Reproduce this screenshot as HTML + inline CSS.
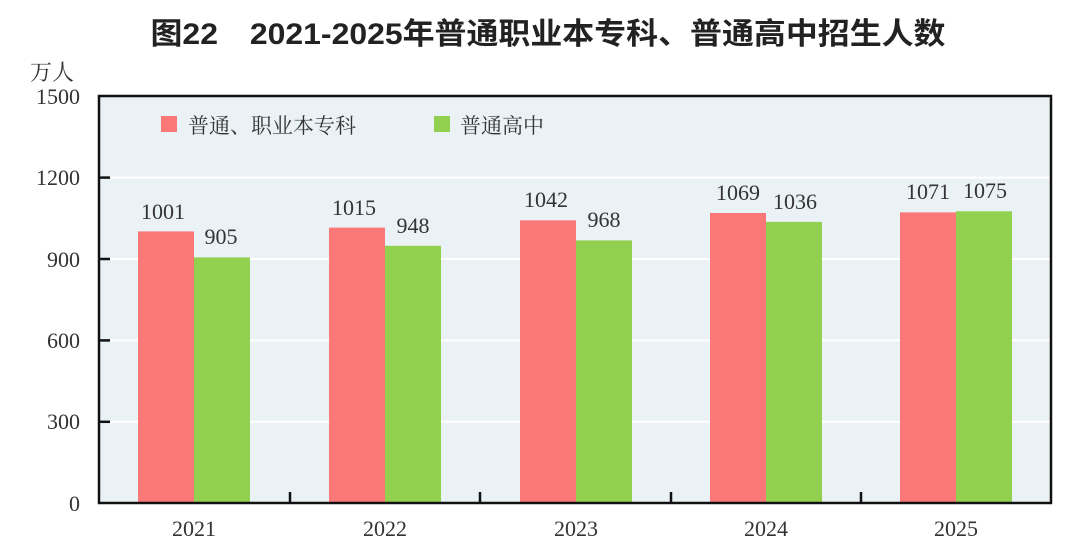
<!DOCTYPE html>
<html><head><meta charset="utf-8"><style>
body{margin:0;background:#fff;}
svg{display:block;}
</style></head><body>
<svg width="1080" height="557" xmlns="http://www.w3.org/2000/svg" font-family="'Liberation Serif','Noto Serif CJK SC',serif">
<text x="548" y="44" text-anchor="middle" font-family="'Liberation Sans','Noto Sans CJK SC',sans-serif" font-size="30" font-weight="bold" fill="#222" textLength="795" lengthAdjust="spacingAndGlyphs">图22　2021-2025年普通职业本专科、普通高中招生人数</text>
<text x="30" y="80" font-family="'Noto Serif CJK SC',serif" font-size="22" fill="#333">万人</text>
<rect x="99" y="96" width="952" height="407" fill="#eaf2f6"/>
<g stroke="#fff" stroke-width="2">
<line x1="100" x2="1050" y1="177.6" y2="177.6"/>
<line x1="100" x2="1050" y1="259" y2="259"/>
<line x1="100" x2="1050" y1="340.4" y2="340.4"/>
<line x1="100" x2="1050" y1="421.8" y2="421.8"/>
</g>
<g font-size="22" fill="#333" text-anchor="end">
<text x="80" y="104">1500</text>
<text x="80" y="185">1200</text>
<text x="80" y="267">900</text>
<text x="80" y="348">600</text>
<text x="80" y="429">300</text>
<text x="80" y="511">0</text>
</g>
<g>
<rect x="138" y="231.4" width="56" height="271.6" fill="#fa7878"/>
<rect x="194" y="257.4" width="56" height="245.6" fill="#92d050"/>
<rect x="329" y="227.6" width="56" height="275.4" fill="#fa7878"/>
<rect x="385" y="245.8" width="56" height="257.2" fill="#92d050"/>
<rect x="520" y="220.3" width="56" height="282.7" fill="#fa7878"/>
<rect x="576" y="240.4" width="56" height="262.6" fill="#92d050"/>
<rect x="710" y="213" width="56" height="290" fill="#fa7878"/>
<rect x="766" y="221.9" width="56" height="281.1" fill="#92d050"/>
<rect x="900" y="212.4" width="56" height="290.6" fill="#fa7878"/>
<rect x="956" y="211.3" width="56" height="291.7" fill="#92d050"/>
</g>
<g font-size="22" fill="#333" text-anchor="middle">
<text x="163" y="219">1001</text><text x="221" y="244">905</text>
<text x="354" y="215">1015</text><text x="413" y="233">948</text>
<text x="546" y="207">1042</text><text x="604" y="227">968</text>
<text x="738" y="200">1069</text><text x="795" y="209">1036</text>
<text x="928" y="199">1071</text><text x="985" y="198">1075</text>
</g>
<g stroke="#111" stroke-width="2.5" fill="none">
<rect x="99" y="96" width="952" height="407"/>
<line x1="99" x2="110" y1="177.6" y2="177.6"/>
<line x1="99" x2="110" y1="259" y2="259"/>
<line x1="99" x2="110" y1="340.4" y2="340.4"/>
<line x1="99" x2="110" y1="421.8" y2="421.8"/>
<line x1="290" x2="290" y1="503" y2="492"/>
<line x1="480" x2="480" y1="503" y2="492"/>
<line x1="671" x2="671" y1="503" y2="492"/>
<line x1="861" x2="861" y1="503" y2="492"/>
</g>
<g font-size="22" fill="#333" text-anchor="middle">
<text x="194" y="536">2021</text>
<text x="385" y="536">2022</text>
<text x="576" y="536">2023</text>
<text x="766" y="536">2024</text>
<text x="956" y="536">2025</text>
</g>
<rect x="161" y="116" width="16" height="16" fill="#fa7878"/>
<text x="188" y="133" font-family="'Noto Serif CJK SC',serif" font-size="21" fill="#333">普通、职业本专科</text>
<rect x="434" y="116" width="16" height="16" fill="#92d050"/>
<text x="460" y="133" font-family="'Noto Serif CJK SC',serif" font-size="21" fill="#333">普通高中</text>
</svg>
</body></html>
